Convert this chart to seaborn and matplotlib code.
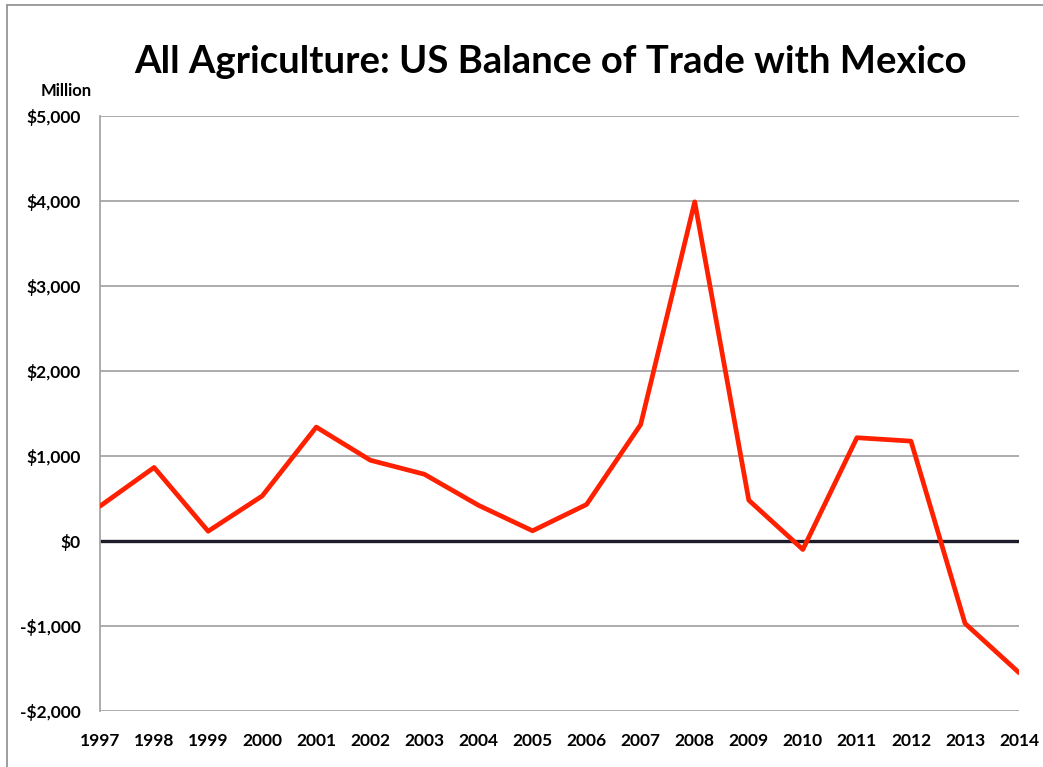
import matplotlib
matplotlib.use("Agg")
import matplotlib.pyplot as plt
import seaborn as sns
import pandas as pd
from matplotlib.lines import Line2D
from matplotlib.ticker import FuncFormatter

# US agricultural balance of trade with Mexico, million USD
years = list(range(1997, 2015))
balance = [410, 865, 115, 530, 1340, 950, 785, 420, 120, 430,
           1370, 3990, 480, -100, 1215, 1175, -970, -1550]
y_ticks = [5000, 4000, 3000, 2000, 1000, 0, -1000, -2000]

df = pd.DataFrame({"Year": years, "Balance": balance})

sns.set_style("white")
plt.rcParams["font.family"] = ["Lato", "DejaVu Sans"]

fig = plt.figure(figsize=(10.43, 7.67), dpi=100)
ax = fig.add_axes([0.0959, 0.073, 0.8812, 0.7758])

for t in y_ticks:
    if t != 0:
        ax.axhline(t, color="#a6a6a6", lw=1.3, zorder=1)
ax.axhline(0, color="#1c1c2a", lw=2.4, zorder=2)

sns.lineplot(data=df, x="Year", y="Balance", color="#ff2000", lw=3.4, ax=ax, zorder=3)

ax.set_xlim(years[0], years[-1])
ax.set_ylim(-2000, 5000)
ax.set_xticks(years)
ax.set_yticks(y_ticks)
ax.yaxis.set_major_formatter(FuncFormatter(
    lambda v, _: f"${int(v):,}" if v >= 0 else f"-${int(-v):,}"))
ax.set_xlabel("")
ax.set_ylabel("")

for s in ["top", "right", "bottom"]:
    ax.spines[s].set_visible(False)
ax.spines["left"].set_color("#a6a6a6")
ax.spines["left"].set_linewidth(1.3)
ax.tick_params(axis="y", length=7, width=1.3, color="#a6a6a6", pad=7,
               labelsize=12.5)
ax.tick_params(axis="x", length=0, pad=16, labelsize=12.5)
for lab in ax.get_xticklabels() + ax.get_yticklabels():
    lab.set_fontweight("bold")
    lab.set_color("black")

fig.text(0.528, 0.919, "All Agriculture: US Balance of Trade with Mexico",
         ha="center", va="center", fontsize=27.5, fontweight="bold", color="black")
fig.text(0.063, 0.882, "Million", ha="center", va="center",
         fontsize=12, fontweight="bold", color="black")

# outer frame (cropped on right and bottom)
fig.add_artist(Line2D([7 / 1043, 7 / 1043], [0, 1 - 5 / 767],
                      transform=fig.transFigure, color="#8c8c8c", lw=1.2))
fig.add_artist(Line2D([7 / 1043, 1], [1 - 5 / 767, 1 - 5 / 767],
                      transform=fig.transFigure, color="#8c8c8c", lw=1.2))

fig.savefig("out.png", dpi=100)
